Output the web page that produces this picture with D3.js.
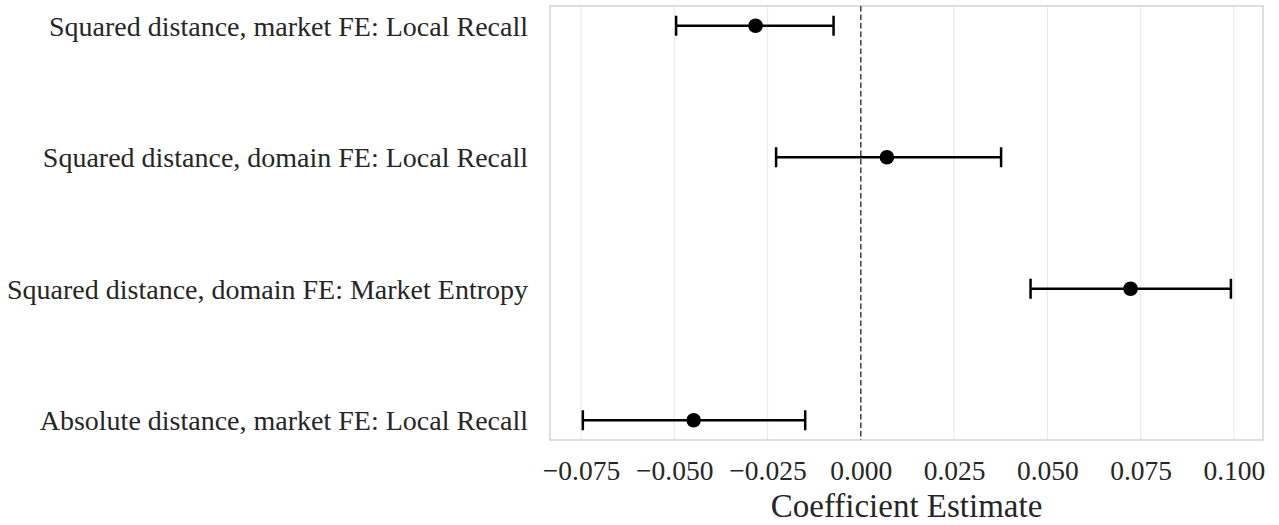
<!DOCTYPE html>
<html>
<head>
<meta charset="utf-8">
<script src="https://cdn.jsdelivr.net/npm/d3@7"></script>
<style>
  html, body { margin: 0; padding: 0; background: #fff; }
  svg { display: block; }
  text { font-family: "Liberation Serif", "Times New Roman", serif; fill: #262626; }
</style>
</head>
<body>
<svg id="chart" width="1279" height="525"></svg>
<script>
const categories = [
  "Squared distance, market FE: Local Recall",
  "Squared distance, domain FE: Local Recall",
  "Squared distance, domain FE: Market Entropy",
  "Absolute distance, market FE: Local Recall"
];
const estimates = [-0.0282, 0.0070, 0.0723, -0.0448];
const lowerCI   = [-0.0495, -0.0227, 0.0455, -0.0745];
const upperCI   = [-0.0073, 0.0376, 0.0992, -0.0149];
const xTicks = [-0.075, -0.05, -0.025, 0, 0.025, 0.05, 0.075, 0.1];
const xTitle = "Coefficient Estimate";

const svg = d3.select("#chart");
const pLeft = 550, pRight = 1263, pTop = 6, pBottom = 440;

const x = d3.scaleLinear().domain([-0.0833, 0.1078]).range([pLeft, pRight]);
const y = d3.scalePoint().domain(categories).range([pTop, pBottom]).padding(0.15);

// gridlines
svg.append("g").selectAll("line").data(xTicks).join("line")
  .attr("x1", d => x(d)).attr("x2", d => x(d))
  .attr("y1", pTop).attr("y2", pBottom)
  .attr("stroke", "#ebebeb").attr("stroke-width", 1.2);

// frame
svg.append("rect").attr("x", pLeft).attr("y", pTop)
  .attr("width", pRight - pLeft).attr("height", pBottom - pTop)
  .attr("fill", "none").attr("stroke", "#cccccc").attr("stroke-width", 1.3);

// zero line
svg.append("line")
  .attr("x1", x(0)).attr("x2", x(0)).attr("y1", pTop).attr("y2", pBottom)
  .attr("stroke", "#444").attr("stroke-width", 1.5).attr("stroke-dasharray", "5.5,3");

// x axis
const xAxis = d3.axisBottom(x).tickValues(xTicks).tickSize(0).tickPadding(0)
  .tickFormat(d => (d < 0 ? "\u2212" : "") + Math.abs(d).toFixed(3));
const gx = svg.append("g").attr("transform", `translate(0,${pBottom})`).call(xAxis);
gx.select(".domain").remove();
gx.selectAll("text").attr("y", 40).attr("dy", 0)
  .style("font-size", "27.5px").style("font-family", "'Liberation Serif', serif").attr("fill", "#262626");

// y axis labels
const yAxis = d3.axisLeft(y).tickSize(0).tickPadding(0);
const gy = svg.append("g").attr("transform", `translate(${pLeft},0)`).call(yAxis);
gy.select(".domain").remove();
gy.selectAll("text").attr("x", -22).attr("dy", "0.34em")
  .style("font-size", "28px").style("font-family", "'Liberation Serif', serif").attr("fill", "#262626");

// x title
svg.append("text").attr("x", (pLeft + pRight) / 2 + 0).attr("y", 517)
  .attr("text-anchor", "middle").style("font-size", "33px").text(xTitle);

const data = categories.map((c, i) => ({ c, est: estimates[i], lo: lowerCI[i], hi: upperCI[i] }));
const g = svg.append("g");
g.selectAll("line.err").data(data).join("line").attr("class", "err")
  .attr("x1", d => x(d.lo)).attr("x2", d => x(d.hi))
  .attr("y1", d => y(d.c)).attr("y2", d => y(d.c))
  .attr("stroke", "#000").attr("stroke-width", 2.5);
g.selectAll("line.capl").data(data).join("line").attr("class", "capl")
  .attr("x1", d => x(d.lo)).attr("x2", d => x(d.lo))
  .attr("y1", d => y(d.c) - 10).attr("y2", d => y(d.c) + 10)
  .attr("stroke", "#000").attr("stroke-width", 2.5);
g.selectAll("line.caph").data(data).join("line").attr("class", "caph")
  .attr("x1", d => x(d.hi)).attr("x2", d => x(d.hi))
  .attr("y1", d => y(d.c) - 10).attr("y2", d => y(d.c) + 10)
  .attr("stroke", "#000").attr("stroke-width", 2.5);
g.selectAll("circle").data(data).join("circle")
  .attr("cx", d => x(d.est)).attr("cy", d => y(d.c)).attr("r", 7.3).attr("fill", "#000");
</script>
</body>
</html>
